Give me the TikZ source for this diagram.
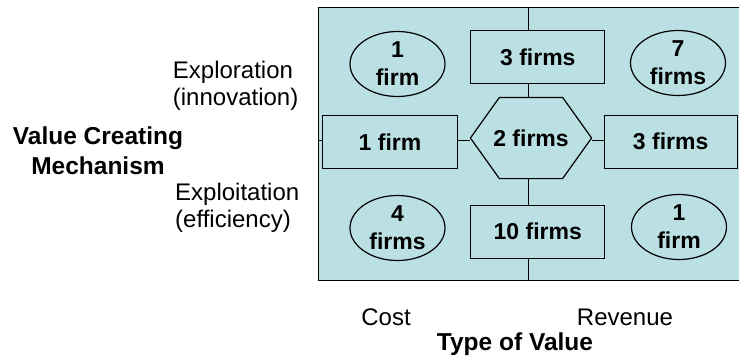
\documentclass[tikz,border=0pt]{standalone}
\usepackage{fontspec}
\setmainfont{Liberation Sans}
\usetikzlibrary{shapes.geometric}
\definecolor{panelblue}{RGB}{187,224,227}

\tikzset{
  firmbox/.style={draw, line width=1.2pt, fill=panelblue, inner sep=0pt,
    font=\fontsize{23}{28}\selectfont\bfseries,
    minimum width=134pt, minimum height=53pt},
  firmoval/.style={firmbox, ellipse, align=center,
    minimum width=95pt, minimum height=65pt},
  firmhex/.style={firmbox, draw=none, fill=none,
    minimum width=120pt, minimum height=80pt},
  axislabel/.style={inner sep=0pt, font=\fontsize{24}{27}\selectfont},
  axistitle/.style={inner sep=0pt, font=\fontsize{24.5}{29.7}\selectfont\bfseries},
}

\begin{document}
\begin{tikzpicture}[x=1pt,y=-1pt]
  \useasboundingbox (0,0) rectangle (739,362);
  % the value panel
  \draw[fill=panelblue, line width=1pt] (318.5,7) rectangle (760,280);
  \coordinate (vt) at (528,7);
  \coordinate (vb) at (528,280);
  \coordinate (hl) at (318.5,140);

  % exploration row
  \node[firmoval] (ec) at (397.5,64) {1\\firm};
  \node[firmbox] (em) at (537.8,57) {3 firms};
  \node[firmoval] (er) at (678,63) {7\\firms};
  % middle row
  \node[firmbox, minimum width=135pt] (ml) at (390,141.7) {1 firm};
  \node[firmhex] (mm) at (531,138) {2 firms};
  \draw[line width=1.2pt] (mm.west) -- ([xshift=29pt]mm.north west)
    -- ([xshift=-29pt]mm.north east) -- (mm.east)
    -- ([xshift=-29pt]mm.south east) -- ([xshift=29pt]mm.south west) -- cycle;
  \node[firmbox, minimum width=133pt] (mr) at (670.7,141.7) {3 firms};
  % exploitation row
  \node[firmoval] (xc) at (397.5,228) {4\\firms};
  \node[firmbox] (xm) at (537.8,231.7) {10 firms};
  \node[firmoval] (xr) at (679,227) {1\\firm};

  % cross lines
  \draw (vt) -- (vt |- em.north);
  \draw (vt |- em.south) -- (vt |- mm.north);
  \draw (vt |- mm.south) -- (vt |- xm.north);
  \draw (vt |- xm.south) -- (vb);
  \draw (hl) -- (hl -| ml.west);
  \draw (hl -| ml.east) -- (hl -| mm.west);
  \draw (hl -| mm.east) -- (hl -| mr.west);

  % axis labels
  \node[axislabel, align=left, anchor=base west] (exr) at (172.7,105.5) {Exploration\\(innovation)};
  \node[axislabel, align=left, anchor=base west] (exp) at (175,227) {Exploitation\\(efficiency)};
  \node[axistitle, align=center, anchor=base] (vcm) at (98,174) {Value Creating\\Mechanism};
  \node[axislabel, anchor=base] (cost) at (386,325) {Cost};
  \node[axislabel, anchor=base] (rev) at (625,325) {Revenue};
  \node[axistitle, anchor=base] (tov) at (515,350) {Type of Value};
\end{tikzpicture}
\end{document}
